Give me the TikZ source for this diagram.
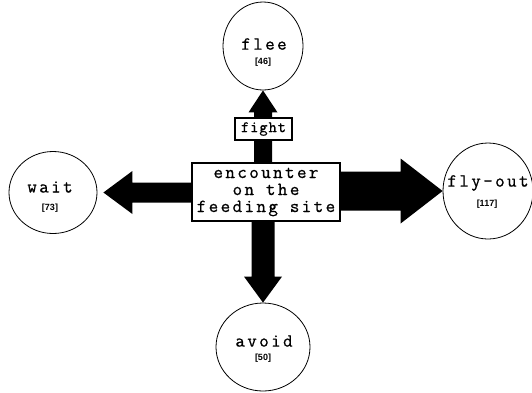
\documentclass[tikz,border=0pt]{standalone}
\usepackage{fontspec}
\newfontfamily\tw[LetterSpace=13,FakeBold=0.8]{Latin Modern Mono}
\newfontfamily\twf[LetterSpace=6,FakeBold=0.8]{Latin Modern Mono}
\newfontfamily\numf{Liberation Sans}
\usetikzlibrary{shapes.geometric,calc}
\begin{document}
\begin{tikzpicture}[x=1pt,y=-1pt,
  state/.style={ellipse,draw,line width=0.8pt,inner sep=0pt},
  lbl/.style={font=\tw\fontsize{18.5}{17}\selectfont,inner sep=0pt},
  cnt/.style={font=\numf\bfseries\fontsize{9}{9}\selectfont,inner sep=0pt},
  framebox/.style={draw,line width=1.6pt,fill=white,inner sep=0pt},
  blk/.style={fill=black}]
\useasboundingbox (0,0) rectangle (532,392);

% states
\node[state,minimum width=80pt,minimum height=88pt] (flee) at (263,46) {};
\node[lbl] (fleet) at (264,44) {flee};
\node[cnt] (fleen) at (263,62) {[46]};

\node[state,minimum width=88pt,minimum height=82pt] (wait) at (53,192.5) {};
\node[lbl] (waitt) at (50,187) {wait};
\node[cnt] (waitn) at (50,208) {[73]};

\node[state,minimum width=90pt,minimum height=96pt] (fly) at (488,191) {};
\node[lbl] (flyt) at (488,183) {fly-out};
\node[cnt] (flyn) at (487,204) {[117]};

\node[state,minimum width=94pt,minimum height=88pt] (avoid) at (263,347) {};
\node[lbl] (avoidt) at (264,341) {avoid};
\node[cnt] (avoidn) at (263,358) {[50]};

% central box corners
\coordinate (c) at (266,192);
\path (192,163) coordinate (bnw) (340,221) coordinate (bse);

% arrows
% up
\fill[blk] (flee.south) -- ++(14.5,22) -- ++(-5.5,0) -- ($(flee.south|-bnw)+(9,2)$)
  -- ++(-18,0) -- ($(flee.south)+(-9,22)$) -- ++(-5.5,0) -- cycle;
% left
\coordinate (lt) at ($(wait.east)+(6,0)$);
\fill[blk] (lt) -- ++(29,-21.5) -- ++(0,11.5) -- ($(lt-|bnw)+(2,-10)$)
  -- ++(0,20) -- ($(lt)+(29,10)$) -- ++(0,11.5) -- cycle;
% right
\fill[blk] (fly.west) -- ++(-42,-32.5) -- ++(0,13) -- ($(fly.west-|bse)+(-2,-19.5)$)
  -- ++(0,39) -- ($(fly.west)+(-42,19.5)$) -- ++(0,13) -- cycle;
% down
\fill[blk] (avoid.north) -- ++(-19,-26) -- ++(7.5,0) -- ($(avoid.north|-bse)+(-11.5,-2)$)
  -- ++(23,0) -- ($(avoid.north)+(11.5,-26)$) -- ++(7.5,0) -- cycle;

% boxes
\node[framebox,minimum width=148pt,minimum height=58pt,align=center,lbl,inner sep=0pt]
  (enc) at (c) {encounter\\on the\\feeding site};
\node[framebox,minimum width=57pt,minimum height=22pt,font=\twf\fontsize{16}{16}\selectfont]
  (fight) at (263.5,129) {fight};
\end{tikzpicture}
\end{document}
